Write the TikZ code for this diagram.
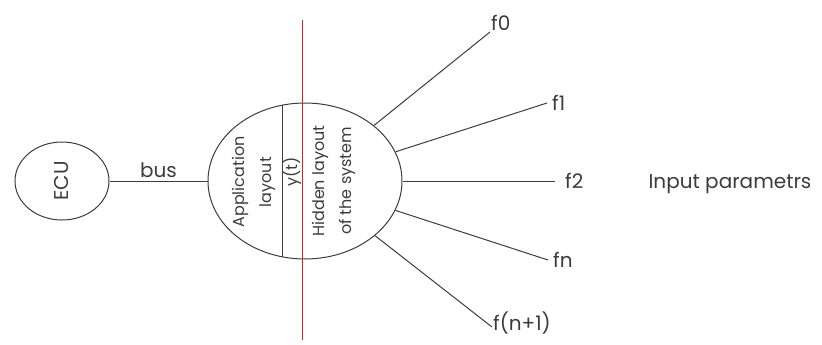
\documentclass[tikz,border=0pt]{standalone}
\usepackage{fontspec}
\setmainfont{Poppins}
\usetikzlibrary{shapes.geometric,positioning}
\definecolor{ink}{RGB}{60,60,60}
\definecolor{redline}{RGB}{160,60,60}
\tikzset{
  every picture/.style={font=\fontsize{20}{26}\selectfont},
  wire/.style={draw=ink,line width=1pt},
  blob/.style={ellipse,draw=ink,line width=1pt,inner sep=0pt},
  lbl/.style={text=ink,inner sep=1pt},
  inner/.style={lbl,rotate=90,align=center,font=\fontsize{16}{27}\selectfont},
}

\begin{document}
\begin{tikzpicture}[x=1pt,y=-1pt]
  \useasboundingbox (0,0) rectangle (822,345);
  \node[blob,minimum width=94,minimum height=78] (ecu) at (62,181) {};
  \node[lbl,rotate=90] at (ecu) {ECU};
  \node[blob,minimum width=194,minimum height=156] (sys) at (305,181) {};
  \draw[wire] (ecu) -- node[lbl,above=2pt] (bus) {bus} (sys);
  % inner split of the system
  \draw[wire] (282,105) -- (282,257);
  \draw[redline,line width=1pt] (302,20) -- (302,340);
  \node[inner] (app) at (254,182) {Application\\layout};
  \node[inner] (yt) at (292,172) {y(t)};
  \node[inner] (hid) at (334,181) {Hidden layout\\of the system};
  % inputs
  \coordinate (e0) at (490,32);
  \coordinate (e1) at (547,103);
  \coordinate (e2) at (555,181);
  \coordinate (e3) at (548,260);
  \coordinate (e4) at (492,327);
  \node[lbl,anchor=south west] (f0) at (e0) {f0};
  \node[lbl,right=4pt of e1] (f1) {f1};
  \node[lbl,right=9pt of e2] (f2) {f2};
  \node[lbl,right=4pt of e3] (fn) {fn};
  \node[lbl,anchor=west] (fn1) at ([yshift=4pt]e4) {f(n+1)};
  \foreach \e in {e0,e1,e2,e3,e4}
    \draw[wire] (sys) -- (\e);
  \node[lbl] (inp) at (730,184) {Input parametrs};
\end{tikzpicture}
\end{document}
